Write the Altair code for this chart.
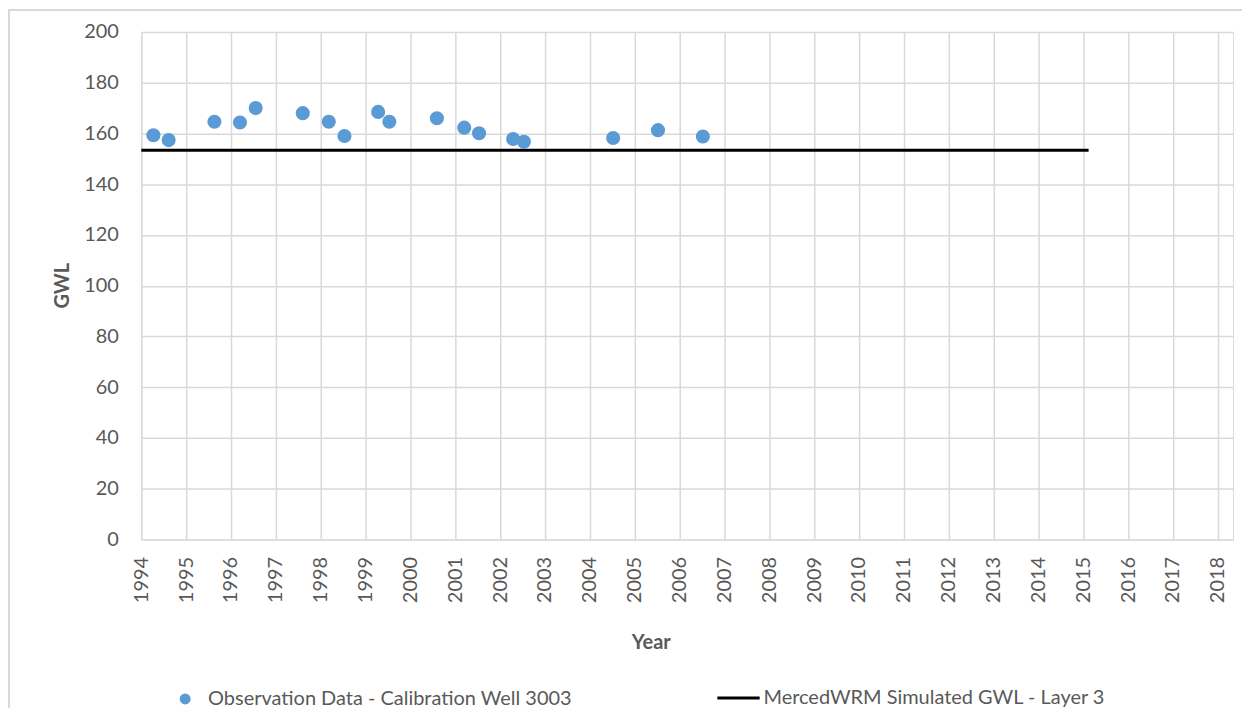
import altair as alt
import pandas as pd

# Observation data (decimal year, GWL)
obs_year = [1994.27, 1994.61, 1995.63, 1996.20, 1996.55, 1997.60, 1998.18, 1998.53,
            1999.28, 1999.53, 2000.59, 2001.20, 2001.53, 2002.29, 2002.53,
            2004.52, 2005.52, 2006.52]
obs_gwl = [159.3, 157.4, 164.6, 164.3, 170.0, 168.0, 164.6, 159.0,
           168.5, 164.6, 166.0, 162.3, 160.1, 157.8, 156.7,
           158.2, 161.3, 158.8]

# Simulated GWL line
sim_year = [1994.0, 2015.12]
sim_gwl = [153.4, 153.4]

year_ticks = list(range(1994, 2019))
gwl_ticks = list(range(0, 201, 20))

obs_label = "Observation Data - Calibration Well 3003"
sim_label = "MercedWRM Simulated GWL - Layer 3"

obs_df = pd.DataFrame({"Year": obs_year, "GWL": obs_gwl, "series": [obs_label] * len(obs_year)})
sim_df = pd.DataFrame({"Year": sim_year, "GWL": sim_gwl, "series": [sim_label] * len(sim_year)})

FONT = "Lato"
GRAY = "#595959"
GRID = "#d9d9d9"
FS = 20

x_scale = alt.Scale(domain=[1994, 2018.34], nice=False, zero=False)
y_scale = alt.Scale(domain=[0, 200], nice=False)

x_axis = alt.Axis(values=year_ticks, format="d", labelAngle=270, labelAlign="right",
                  labelBaseline="middle", labelPadding=17, ticks=False, domain=False,
                  grid=True, gridColor=GRID, gridWidth=1.5, labelFontSize=FS,
                  labelColor=GRAY, title="Year", titleFontSize=FS, titleColor=GRAY,
                  titleFontWeight="bold", titleX=511, titleY=103, titleAlign="center",
                  titleBaseline="middle", labelFont=FONT, titleFont=FONT)
y_axis = alt.Axis(values=gwl_ticks, ticks=False, domain=False, grid=True, gridColor=GRID,
                  gridWidth=1.5, labelPadding=23, labelFontSize=FS, labelColor=GRAY,
                  title="GWL", titleFontSize=FS, titleColor=GRAY, titleFontWeight="bold",
                  titleX=-79, titleY=254, titleAlign="center", titleBaseline="middle",
                  titleAngle=270, labelFont=FONT, titleFont=FONT)

frame_df = pd.DataFrame({"a": [0]})
frame_left = alt.Chart(frame_df).mark_rule(stroke=GRID, strokeWidth=2, clip=False).encode(
    x=alt.value(-132.7), y=alt.value(-22), y2=alt.value(678))
frame_top = alt.Chart(frame_df).mark_rule(stroke=GRID, strokeWidth=2, clip=False).encode(
    x=alt.value(-133.7), x2=alt.value(1104), y=alt.value(-22))

line = alt.Chart(sim_df).mark_line(strokeWidth=3, color="black").encode(
    x=alt.X("Year:Q", scale=x_scale, axis=x_axis),
    y=alt.Y("GWL:Q", scale=y_scale, axis=y_axis),
    stroke=alt.Stroke("series:N", scale=alt.Scale(domain=[sim_label], range=["black"]),
                      legend=alt.Legend(title=None, orient="none", legendX=576, legendY=645,
                                        symbolType="stroke", symbolSize=1800,
                                        symbolStrokeWidth=3, labelOffset=2, labelLimit=0,
                                        labelFontSize=FS, labelColor=GRAY, labelFont=FONT)),
)

points = alt.Chart(obs_df).mark_point(filled=True, size=200, opacity=1).encode(
    x=alt.X("Year:Q", scale=x_scale, axis=x_axis),
    y=alt.Y("GWL:Q", scale=y_scale, axis=y_axis),
    fill=alt.Fill("series:N", scale=alt.Scale(domain=[obs_label], range=["#5B9BD5"]),
                  legend=alt.Legend(title=None, orient="none", legendX=34, legendY=659,
                                    symbolType="circle", symbolSize=120, symbolOpacity=1,
                                    symbolStrokeWidth=0, labelOffset=13, labelLimit=0,
                                    labelFontSize=FS, labelColor=GRAY, labelFont=FONT)),
)

chart = alt.layer(frame_left, frame_top, line, points).properties(
    width=1095, height=509,
    autosize=alt.AutoSizeParams(type="none"),
    padding={"left": 133.7, "top": 23, "right": 10, "bottom": 170},
).configure_view(stroke=None).configure(background="white")

chart.save("out.html", embed_options={"renderer": "svg", "actions": False})
